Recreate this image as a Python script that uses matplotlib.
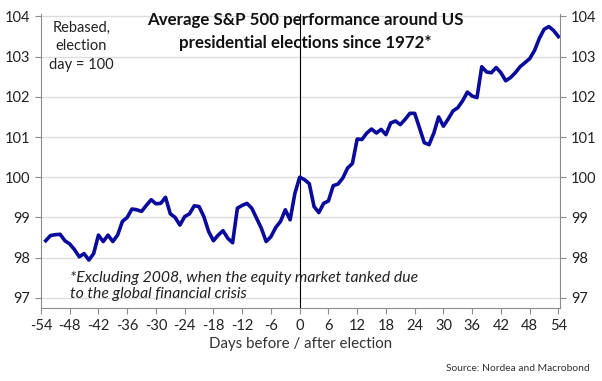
import matplotlib
matplotlib.use("Agg")
import matplotlib.pyplot as plt
import numpy as np

plt.rcParams['font.family'] = ['Lato', 'DejaVu Sans']

days = list(range(-53, 55))
values = [
    98.42, 98.55, 98.57, 98.58, 98.42, 98.34, 98.20, 98.02, 98.10, 97.94,
    98.10, 98.56, 98.40, 98.56, 98.40, 98.56, 98.90, 99.00, 99.21, 99.19,
    99.15, 99.30, 99.44, 99.34, 99.35, 99.50, 99.09, 99.00, 98.81, 99.02,
    99.09, 99.29, 99.27, 99.02, 98.65, 98.42, 98.56, 98.67, 98.48, 98.37,
    99.23, 99.30, 99.35, 99.23, 98.98, 98.73, 98.40, 98.52, 98.75, 98.90,
    99.19, 98.94, 99.60, 100.00, 99.94, 99.84, 99.27, 99.12, 99.35, 99.41,
    99.79, 99.83, 99.98, 100.23, 100.34, 100.95, 100.94, 101.10, 101.20, 101.10,
    101.19, 101.06, 101.35, 101.40, 101.31, 101.44, 101.59, 101.59, 101.23, 100.86,
    100.81, 101.10, 101.50, 101.27, 101.45, 101.65, 101.73, 101.90, 102.12, 102.02,
    101.98, 102.75, 102.62, 102.60, 102.73, 102.60, 102.40, 102.48, 102.60, 102.75,
    102.85, 102.95, 103.15, 103.45, 103.68, 103.75, 103.65, 103.50,
]
x_ticks = list(range(-54, 55, 6))
y_ticks = [97, 98, 99, 100, 101, 102, 103, 104]

title = "Average S&P 500 performance around US\npresidential elections since 1972*"
note = "Rebased,\nelection\nday = 100"
footnote = "*Excluding 2008, when the equity market tanked due\nto the global financial crisis"
xlabel = "Days before / after election"
source = "Source: Nordea and Macrobond"

fig = plt.figure(figsize=(6.02, 3.81), dpi=100)
ax = fig.add_axes([0.068, 0.192, 0.862, 0.77])

spine_c = "#8c8c8c"
for y in y_ticks:
    ax.axhline(y, color="#dcdcdc", lw=1.0, zorder=0)
ax.axvline(0, color="black", lw=0.8, zorder=1)
ax.plot(days, values, color="#0a0a9c", lw=2.6, solid_joinstyle="round", zorder=3)

ax.set_xlim(-54, 54.3)
ax.set_ylim(96.75, 104.05)
ax.set_xticks(x_ticks)
ax.set_xticklabels([str(t) for t in x_ticks])
ax.set_yticks(y_ticks)
ax.set_yticklabels([str(t) for t in y_ticks])
ax.tick_params(axis="both", which="both", direction="out", length=4, width=0.8,
               color=spine_c, labelsize=10.5, labelcolor="#222222", pad=4)
ax.tick_params(axis="y", right=True, labelright=True, left=True, labelleft=True)
for s in ["left", "right", "bottom"]:
    ax.spines[s].set_color(spine_c)
    ax.spines[s].set_linewidth(0.8)
ax.spines["top"].set_visible(False)

ax.set_xlabel(xlabel, fontsize=10.8, color="#333333", labelpad=3)

fig.text(0.507, 0.968, title, ha="center", va="top", fontsize=12.2,
         fontweight="bold", color="#111111", linespacing=1.5)
fig.text(0.135, 0.945, note, ha="center", va="top", fontsize=10.5,
         color="#222222", linespacing=1.4)
fig.text(0.116, 0.288, footnote, ha="left", va="top", fontsize=11.3,
         style="italic", color="#222222", linespacing=1.2)
fig.text(0.98, 0.022, source, ha="right", va="bottom", fontsize=7.4,
         color="#333333")

fig.savefig("out.png", dpi=100)
